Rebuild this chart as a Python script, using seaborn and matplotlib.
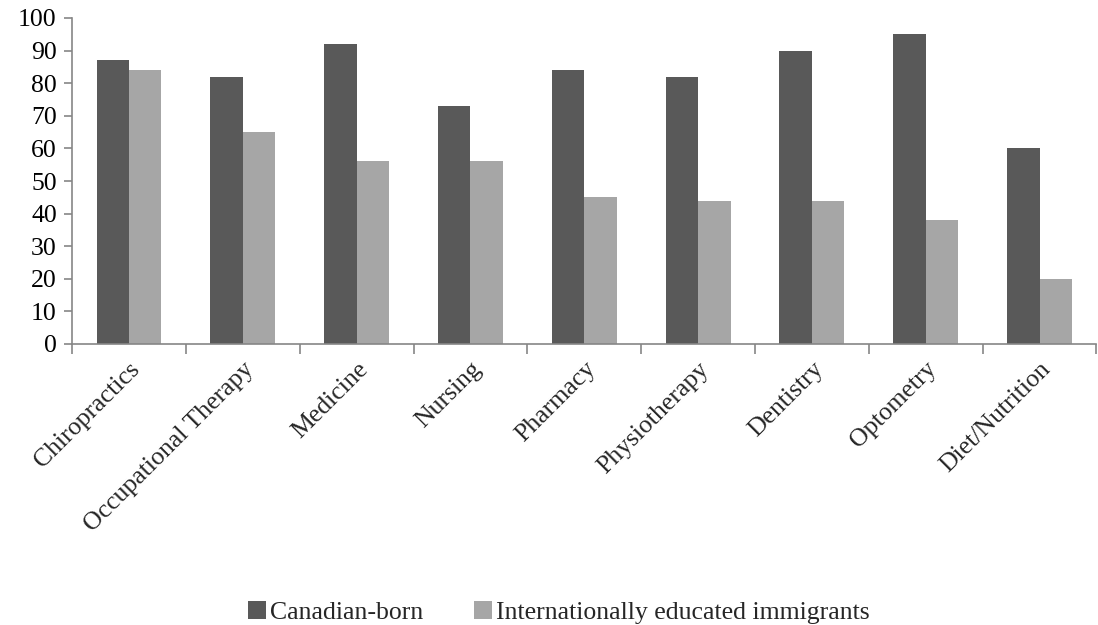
import matplotlib
matplotlib.use("Agg")
import matplotlib.pyplot as plt
from matplotlib.patches import Patch
from matplotlib.ticker import FixedLocator
import seaborn as sns
import pandas as pd

categories = ["Chiropractics", "Occupational Therapy", "Medicine", "Nursing",
              "Pharmacy", "Physiotherapy", "Dentistry", "Optometry", "Diet/Nutrition"]
canadian_born = [87, 82, 92, 73, 84, 82, 90, 95, 60]
immigrants = [84, 65, 56, 56, 45, 44, 44, 38, 20]
series_names = ["Canadian-born", "Internationally educated immigrants"]
colors = ["#595959", "#a6a6a6"]

df = pd.DataFrame({
    "category": categories * 2,
    "value": canadian_born + immigrants,
    "series": [series_names[0]] * len(categories) + [series_names[1]] * len(categories),
})

sns.set_style("white")
plt.rcParams["font.family"] = ["Liberation Serif", "DejaVu Serif"]

fig = plt.figure(figsize=(10.98, 6.25), dpi=100)
ax = fig.add_axes([0.0656, 0.4496, 0.933, 0.5216])

sns.barplot(data=df, x="category", y="value", hue="series", order=categories,
            hue_order=series_names, palette=colors, width=0.57, saturation=1,
            edgecolor="none", legend=False, ax=ax)

axis_color = "#868686"
ax.set_ylim(0, 100)
ax.set_xlim(-0.5, len(categories) - 0.5)
ax.set_yticks(range(0, 101, 10))
ax.set_xlabel("")
ax.set_ylabel("")
for side in ["top", "right"]:
    ax.spines[side].set_visible(False)
for side in ["left", "bottom"]:
    ax.spines[side].set_color(axis_color)
    ax.spines[side].set_linewidth(1.2)

ax.tick_params(axis="y", direction="out", length=6, color=axis_color, width=1.2,
               labelsize=18.5, labelcolor="black", pad=5, left=True)
ax.set_xticks(range(len(categories)))
ax.set_xticklabels(categories, rotation=45, ha="right", rotation_mode="anchor",
                   fontsize=18.5)
ax.tick_params(axis="x", which="major", length=0, pad=10)
ax.xaxis.set_minor_locator(FixedLocator([i - 0.5 for i in range(len(categories) + 1)]))
ax.tick_params(axis="x", which="minor", direction="out", length=7, color=axis_color,
               width=1.2, bottom=True)

handles = [Patch(facecolor=c, edgecolor="none") for c in colors]
fig.legend(handles, series_names, loc="center", bbox_to_anchor=(0.509, 0.02),
           ncol=2, frameon=False, fontsize=18.5, handlelength=0.7, handleheight=0.7,
           handletextpad=0.15, columnspacing=2.0)

fig.savefig("out.png", dpi=100)
